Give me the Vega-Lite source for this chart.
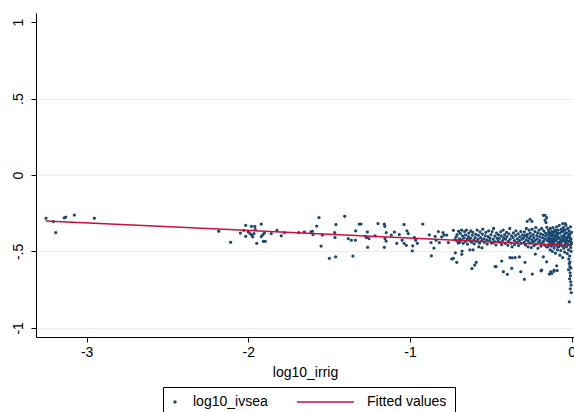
{
  "$schema": "https://vega.github.io/schema/vega-lite/v6.json",
  "width": 538,
  "height": 324,
  "autosize": {"type": "none"},
  "padding": {"left": 36, "top": 13, "right": 0, "bottom": 75},
  "background": "white",
  "config": {
    "view": {"stroke": null},
    "font": "Liberation Sans",
    "axis": {"labelFont": "Liberation Sans", "titleFont": "Liberation Sans", "labelFontSize": 14, "titleFontSize": 14, "titleFontWeight": "normal", "labelColor": "black", "titleColor": "black", "domainColor": "black", "tickColor": "black", "tickSize": 5, "domainWidth": 1},
    "legend": {"symbolStrokeWidth": 1.5}
  },
  "datasets": {
    "pts": [
      {"irrig":-3.251,"ivsea":-0.283},{"irrig":-3.206,"ivsea":-0.305},{"irrig":-3.191,"ivsea":-0.377},{"irrig":-3.138,"ivsea":-0.281},{"irrig":-3.129,"ivsea":-0.275},{"irrig":-3.076,"ivsea":-0.262},{"irrig":-2.952,"ivsea":-0.283},
      {"irrig":-2.183,"ivsea":-0.368},{"irrig":-2.109,"ivsea":-0.440},{"irrig":-2.049,"ivsea":-0.381},{"irrig":-2.028,"ivsea":-0.362},{"irrig":-2.016,"ivsea":-0.329},{"irrig":-2.016,"ivsea":-0.401},{"irrig":-2.000,"ivsea":-0.373},{"irrig":-1.989,"ivsea":-0.383},{"irrig":-1.981,"ivsea":-0.336},{"irrig":-1.979,"ivsea":-0.394},{"irrig":-1.973,"ivsea":-0.405},{"irrig":-1.965,"ivsea":-0.383},{"irrig":-1.960,"ivsea":-0.337},{"irrig":-1.957,"ivsea":-0.357},{"irrig":-1.948,"ivsea":-0.448},{"irrig":-1.920,"ivsea":-0.322},{"irrig":-1.920,"ivsea":-0.403},{"irrig":-1.911,"ivsea":-0.392},{"irrig":-1.907,"ivsea":-0.435},{"irrig":-1.901,"ivsea":-0.381},{"irrig":-1.895,"ivsea":-0.435},{"irrig":-1.858,"ivsea":-0.383},{"irrig":-1.823,"ivsea":-0.362},{"irrig":-1.796,"ivsea":-0.399},{"irrig":-1.777,"ivsea":-0.377},{"irrig":-1.688,"ivsea":-0.377},
      {"irrig":-1.654,"ivsea":-0.373},{"irrig":-1.612,"ivsea":-0.373},{"irrig":-1.604,"ivsea":-0.368},{"irrig":-1.600,"ivsea":-0.390},{"irrig":-1.577,"ivsea":-0.334},{"irrig":-1.563,"ivsea":-0.279},{"irrig":-1.550,"ivsea":-0.466},{"irrig":-1.542,"ivsea":-0.394},{"irrig":-1.499,"ivsea":-0.546},{"irrig":-1.460,"ivsea":-0.536},{"irrig":-1.458,"ivsea":-0.324},{"irrig":-1.466,"ivsea":-0.377},{"irrig":-1.464,"ivsea":-0.409},{"irrig":-1.404,"ivsea":-0.270},{"irrig":-1.382,"ivsea":-0.416},{"irrig":-1.363,"ivsea":-0.427},{"irrig":-1.353,"ivsea":-0.531},{"irrig":-1.338,"ivsea":-0.427},{"irrig":-1.336,"ivsea":-0.366},{"irrig":-1.314,"ivsea":-0.322},{"irrig":-1.303,"ivsea":-0.322},{"irrig":-1.274,"ivsea":-0.401},{"irrig":-1.270,"ivsea":-0.409},{"irrig":-1.264,"ivsea":-0.373},{"irrig":-1.262,"ivsea":-0.474},{"irrig":-1.254,"ivsea":-0.416},{"irrig":-1.216,"ivsea":-0.399},{"irrig":-1.198,"ivsea":-0.318},{"irrig":-1.159,"ivsea":-0.322},{"irrig":-1.159,"ivsea":-0.474},{"irrig":-1.155,"ivsea":-0.416},{"irrig":-1.148,"ivsea":-0.433},{"irrig":-1.147,"ivsea":-0.377},
      {"irrig":-1.156,"ivsea":-0.336},{"irrig":-1.116,"ivsea":-0.394},{"irrig":-1.097,"ivsea":-0.373},{"irrig":-1.082,"ivsea":-0.448},{"irrig":-1.066,"ivsea":-0.390},{"irrig":-1.049,"ivsea":-0.427},{"irrig":-1.037,"ivsea":-0.324},{"irrig":-1.037,"ivsea":-0.448},{"irrig":-1.023,"ivsea":-0.461},{"irrig":-1.019,"ivsea":-0.366},{"irrig":-1.011,"ivsea":-0.383},{"irrig":-0.986,"ivsea":-0.496},{"irrig":-0.983,"ivsea":-0.464},{"irrig":-0.973,"ivsea":-0.409},{"irrig":-0.965,"ivsea":-0.427},{"irrig":-0.955,"ivsea":-0.448},{"irrig":-0.921,"ivsea":-0.322},{"irrig":-0.881,"ivsea":-0.392},{"irrig":-0.870,"ivsea":-0.442},{"irrig":-0.868,"ivsea":-0.529},{"irrig":-0.852,"ivsea":-0.479},{"irrig":-0.845,"ivsea":-0.401},{"irrig":-0.839,"ivsea":-0.427},{"irrig":-0.825,"ivsea":-0.370},{"irrig":-0.819,"ivsea":-0.442},{"irrig":-0.804,"ivsea":-0.405},{"irrig":-0.796,"ivsea":-0.377},{"irrig":-0.790,"ivsea":-0.394},{"irrig":-0.773,"ivsea":-0.394},{"irrig":-0.763,"ivsea":-0.442},{"irrig":-0.742,"ivsea":-0.550},{"irrig":-0.732,"ivsea":-0.546},{"irrig":-0.732,"ivsea":-0.362},{"irrig":-0.722,"ivsea":-0.422},{"irrig":-0.711,"ivsea":-0.572},{"irrig":-0.720,"ivsea":-0.509},
      {"irrig":-0.715,"ivsea":-0.405},{"irrig":-0.711,"ivsea":-0.43},{"irrig":-0.709,"ivsea":-0.39},{"irrig":-0.702,"ivsea":-0.445},{"irrig":-0.70,"ivsea":-0.368},{"irrig":-0.694,"ivsea":-0.418},{"irrig":-0.692,"ivsea":-0.44},{"irrig":-0.689,"ivsea":-0.382},{"irrig":-0.681,"ivsea":-0.36},{"irrig":-0.679,"ivsea":-0.425},{"irrig":-0.676,"ivsea":-0.398},{"irrig":-0.671,"ivsea":-0.447},{"irrig":-0.666,"ivsea":-0.412},{"irrig":-0.664,"ivsea":-0.37},{"irrig":-0.657,"ivsea":-0.435},{"irrig":-0.656,"ivsea":-0.392},{"irrig":-0.651,"ivsea":-0.36},{"irrig":-0.646,"ivsea":-0.42},{"irrig":-0.645,"ivsea":-0.452},{"irrig":-0.639,"ivsea":-0.403},{"irrig":-0.636,"ivsea":-0.38},{"irrig":-0.631,"ivsea":-0.43},{"irrig":-0.626,"ivsea":-0.414},{"irrig":-0.624,"ivsea":-0.365},{"irrig":-0.619,"ivsea":-0.44},{"irrig":-0.615,"ivsea":-0.395},{"irrig":-0.612,"ivsea":-0.375},{"irrig":-0.605,"ivsea":-0.425},{"irrig":-0.603,"ivsea":-0.45},
      {"irrig":-0.68,"ivsea":-0.52},{"irrig":-0.678,"ivsea":-0.498},{"irrig":-0.63,"ivsea":-0.49},{"irrig":-0.61,"ivsea":-0.49},{"irrig":-0.617,"ivsea":-0.612},{"irrig":-0.600,"ivsea":-0.590},{"irrig":-0.591,"ivsea":-0.572},{"irrig":-0.575,"ivsea":-0.47},{"irrig":-0.555,"ivsea":-0.477},
      {"irrig":-0.597,"ivsea":-0.41},{"irrig":-0.594,"ivsea":-0.388},{"irrig":-0.588,"ivsea":-0.435},{"irrig":-0.585,"ivsea":-0.36},{"irrig":-0.579,"ivsea":-0.42},{"irrig":-0.577,"ivsea":-0.395},{"irrig":-0.570,"ivsea":-0.445},{"irrig":-0.567,"ivsea":-0.372},{"irrig":-0.563,"ivsea":-0.41},{"irrig":-0.556,"ivsea":-0.43},{"irrig":-0.553,"ivsea":-0.387},{"irrig":-0.550,"ivsea":-0.355},{"irrig":-0.544,"ivsea":-0.418},{"irrig":-0.541,"ivsea":-0.44},{"irrig":-0.535,"ivsea":-0.398},{"irrig":-0.531,"ivsea":-0.376},{"irrig":-0.526,"ivsea":-0.425},{"irrig":-0.523,"ivsea":-0.452},{"irrig":-0.517,"ivsea":-0.403},{"irrig":-0.514,"ivsea":-0.365},{"irrig":-0.508,"ivsea":-0.43},{"irrig":-0.506,"ivsea":-0.413},{"irrig":-0.499,"ivsea":-0.39},{"irrig":-0.496,"ivsea":-0.445},{"irrig":-0.492,"ivsea":-0.37},{"irrig":-0.486,"ivsea":-0.42},{"irrig":-0.483,"ivsea":-0.35},{"irrig":-0.477,"ivsea":-0.436},{"irrig":-0.475,"ivsea":-0.4},{"irrig":-0.469,"ivsea":-0.458},{"irrig":-0.465,"ivsea":-0.38},{"irrig":-0.462,"ivsea":-0.415},{"irrig":-0.455,"ivsea":-0.432},{"irrig":-0.453,"ivsea":-0.392},{"irrig":-0.486,"ivsea":-0.442},{"irrig":-0.473,"ivsea":-0.6},{"irrig":-0.468,"ivsea":-0.60},
      {"irrig":-0.448,"ivsea":-0.415},{"irrig":-0.445,"ivsea":-0.44},{"irrig":-0.439,"ivsea":-0.372},{"irrig":-0.436,"ivsea":-0.398},{"irrig":-0.433,"ivsea":-0.455},{"irrig":-0.427,"ivsea":-0.428},{"irrig":-0.424,"ivsea":-0.36},{"irrig":-0.421,"ivsea":-0.41},{"irrig":-0.415,"ivsea":-0.39},{"irrig":-0.412,"ivsea":-0.447},{"irrig":-0.409,"ivsea":-0.42},{"irrig":-0.403,"ivsea":-0.375},{"irrig":-0.401,"ivsea":-0.403},{"irrig":-0.395,"ivsea":-0.46},{"irrig":-0.392,"ivsea":-0.435},{"irrig":-0.389,"ivsea":-0.385},{"irrig":-0.383,"ivsea":-0.35},{"irrig":-0.381,"ivsea":-0.42},{"irrig":-0.375,"ivsea":-0.445},{"irrig":-0.372,"ivsea":-0.398},{"irrig":-0.369,"ivsea":-0.47},{"irrig":-0.363,"ivsea":-0.41},{"irrig":-0.361,"ivsea":-0.378},{"irrig":-0.355,"ivsea":-0.43},{"irrig":-0.353,"ivsea":-0.455},{"irrig":-0.347,"ivsea":-0.395},{"irrig":-0.345,"ivsea":-0.365},{"irrig":-0.339,"ivsea":-0.44},{"irrig":-0.337,"ivsea":-0.418},{"irrig":-0.331,"ivsea":-0.385},{"irrig":-0.329,"ivsea":-0.462},{"irrig":-0.323,"ivsea":-0.43},{"irrig":-0.321,"ivsea":-0.405},{"irrig":-0.315,"ivsea":-0.37},{"irrig":-0.313,"ivsea":-0.448},{"irrig":-0.307,"ivsea":-0.42},{"irrig":-0.305,"ivsea":-0.392},
      {"irrig":-0.433,"ivsea":-0.563},{"irrig":-0.423,"ivsea":-0.633},{"irrig":-0.398,"ivsea":-0.65},{"irrig":-0.382,"ivsea":-0.54},{"irrig":-0.368,"ivsea":-0.542},{"irrig":-0.35,"ivsea":-0.54},{"irrig":-0.371,"ivsea":-0.611},{"irrig":-0.315,"ivsea":-0.633},{"irrig":-0.293,"ivsea":-0.683},{"irrig":-0.324,"ivsea":-0.536},{"irrig":-0.289,"ivsea":-0.572},{"irrig":-0.275,"ivsea":-0.303},{"irrig":-0.258,"ivsea":-0.290},{"irrig":-0.246,"ivsea":-0.303},
      {"irrig":-0.298,"ivsea":-0.41},{"irrig":-0.294,"ivsea":-0.44},{"irrig":-0.293,"ivsea":-0.372},{"irrig":-0.288,"ivsea":-0.395},{"irrig":-0.286,"ivsea":-0.458},{"irrig":-0.282,"ivsea":-0.425},{"irrig":-0.281,"ivsea":-0.35},{"irrig":-0.276,"ivsea":-0.405},{"irrig":-0.274,"ivsea":-0.388},{"irrig":-0.270,"ivsea":-0.47},{"irrig":-0.269,"ivsea":-0.432},{"irrig":-0.264,"ivsea":-0.36},{"irrig":-0.262,"ivsea":-0.415},{"irrig":-0.258,"ivsea":-0.445},{"irrig":-0.257,"ivsea":-0.38},{"irrig":-0.252,"ivsea":-0.4},{"irrig":-0.250,"ivsea":-0.475},{"irrig":-0.246,"ivsea":-0.425},{"irrig":-0.245,"ivsea":-0.355},{"irrig":-0.240,"ivsea":-0.438},{"irrig":-0.238,"ivsea":-0.39},{"irrig":-0.234,"ivsea":-0.41},{"irrig":-0.233,"ivsea":-0.462},{"irrig":-0.228,"ivsea":-0.37},{"irrig":-0.226,"ivsea":-0.43},{"irrig":-0.222,"ivsea":-0.345},{"irrig":-0.221,"ivsea":-0.452},{"irrig":-0.216,"ivsea":-0.397},{"irrig":-0.214,"ivsea":-0.418},{"irrig":-0.210,"ivsea":-0.378},{"irrig":-0.209,"ivsea":-0.48},{"irrig":-0.204,"ivsea":-0.44},{"irrig":-0.202,"ivsea":-0.36},{"irrig":-0.198,"ivsea":-0.405},{"irrig":-0.197,"ivsea":-0.428},{"irrig":-0.192,"ivsea":-0.385},{"irrig":-0.190,"ivsea":-0.465},{"irrig":-0.186,"ivsea":-0.35},{"irrig":-0.185,"ivsea":-0.445},{"irrig":-0.180,"ivsea":-0.412},{"irrig":-0.178,"ivsea":-0.392},{"irrig":-0.174,"ivsea":-0.435},{"irrig":-0.173,"ivsea":-0.365},{"irrig":-0.168,"ivsea":-0.458},{"irrig":-0.166,"ivsea":-0.42},{"irrig":-0.162,"ivsea":-0.38},{"irrig":-0.161,"ivsea":-0.4},{"irrig":-0.156,"ivsea":-0.47},{"irrig":-0.154,"ivsea":-0.342},{"irrig":-0.150,"ivsea":-0.43},
      {"irrig":-0.244,"ivsea":-0.648},{"irrig":-0.225,"ivsea":-0.518},{"irrig":-0.19,"ivsea":-0.627},{"irrig":-0.139,"ivsea":-0.648},{"irrig":-0.124,"ivsea":-0.645},{"irrig":-0.11,"ivsea":-0.63},{"irrig":-0.09,"ivsea":-0.625},{"irrig":-0.13,"ivsea":-0.633},{"irrig":-0.109,"ivsea":-0.622},{"irrig":-0.093,"ivsea":-0.594},{"irrig":-0.155,"ivsea":-0.568},{"irrig":-0.176,"ivsea":-0.536},{"irrig":-0.186,"ivsea":-0.622},{"irrig":-0.165,"ivsea":-0.264},{"irrig":-0.155,"ivsea":-0.279},{"irrig":-0.159,"ivsea":-0.311},{"irrig":-0.176,"ivsea":-0.264},{"irrig":-0.165,"ivsea":-0.296},{"irrig":-0.056,"ivsea":-0.318},{"irrig":-0.04,"ivsea":-0.318},
      {"irrig":-0.148,"ivsea":-0.39},{"irrig":-0.145,"ivsea":-0.43},{"irrig":-0.144,"ivsea":-0.36},{"irrig":-0.141,"ivsea":-0.455},{"irrig":-0.140,"ivsea":-0.41},{"irrig":-0.137,"ivsea":-0.38},{"irrig":-0.136,"ivsea":-0.44},{"irrig":-0.133,"ivsea":-0.49},{"irrig":-0.132,"ivsea":-0.35},{"irrig":-0.129,"ivsea":-0.42},{"irrig":-0.128,"ivsea":-0.4},{"irrig":-0.125,"ivsea":-0.465},{"irrig":-0.124,"ivsea":-0.37},{"irrig":-0.121,"ivsea":-0.435},{"irrig":-0.120,"ivsea":-0.5},{"irrig":-0.117,"ivsea":-0.385},{"irrig":-0.116,"ivsea":-0.345},{"irrig":-0.113,"ivsea":-0.445},{"irrig":-0.112,"ivsea":-0.415},{"irrig":-0.109,"ivsea":-0.478},{"irrig":-0.108,"ivsea":-0.395},{"irrig":-0.105,"ivsea":-0.36},{"irrig":-0.104,"ivsea":-0.43},{"irrig":-0.101,"ivsea":-0.512},{"irrig":-0.1,"ivsea":-0.405},{"irrig":-0.097,"ivsea":-0.375},{"irrig":-0.096,"ivsea":-0.455},{"irrig":-0.093,"ivsea":-0.34},{"irrig":-0.092,"ivsea":-0.42},{"irrig":-0.089,"ivsea":-0.49},{"irrig":-0.088,"ivsea":-0.39},{"irrig":-0.085,"ivsea":-0.44},{"irrig":-0.084,"ivsea":-0.36},{"irrig":-0.081,"ivsea":-0.47},{"irrig":-0.080,"ivsea":-0.41},{"irrig":-0.077,"ivsea":-0.33},{"irrig":-0.076,"ivsea":-0.45},{"irrig":-0.073,"ivsea":-0.525},{"irrig":-0.072,"ivsea":-0.38},{"irrig":-0.069,"ivsea":-0.425},{"irrig":-0.068,"ivsea":-0.495},{"irrig":-0.065,"ivsea":-0.355},{"irrig":-0.064,"ivsea":-0.44},{"irrig":-0.061,"ivsea":-0.4},{"irrig":-0.06,"ivsea":-0.465},{"irrig":-0.057,"ivsea":-0.37},{"irrig":-0.056,"ivsea":-0.54},{"irrig":-0.053,"ivsea":-0.415},{"irrig":-0.052,"ivsea":-0.345},{"irrig":-0.049,"ivsea":-0.48},{"irrig":-0.048,"ivsea":-0.43},{"irrig":-0.045,"ivsea":-0.39},{"irrig":-0.044,"ivsea":-0.505},{"irrig":-0.041,"ivsea":-0.36},{"irrig":-0.04,"ivsea":-0.445},{"irrig":-0.037,"ivsea":-0.41},{"irrig":-0.036,"ivsea":-0.33},{"irrig":-0.033,"ivsea":-0.47},{"irrig":-0.032,"ivsea":-0.425},{"irrig":-0.029,"ivsea":-0.38},{"irrig":-0.028,"ivsea":-0.515},{"irrig":-0.025,"ivsea":-0.35},{"irrig":-0.024,"ivsea":-0.455},{"irrig":-0.021,"ivsea":-0.4},{"irrig":-0.02,"ivsea":-0.49},{"irrig":-0.017,"ivsea":-0.365},{"irrig":-0.016,"ivsea":-0.435},{"irrig":-0.013,"ivsea":-0.53},{"irrig":-0.012,"ivsea":-0.39},{"irrig":-0.009,"ivsea":-0.46},{"irrig":-0.008,"ivsea":-0.34},{"irrig":-0.005,"ivsea":-0.42},{"irrig":-0.004,"ivsea":-0.5},{"irrig":-0.001,"ivsea":-0.375},
      {"irrig":-0.147,"ivsea":-0.415},{"irrig":-0.142,"ivsea":-0.375},{"irrig":-0.134,"ivsea":-0.425},{"irrig":-0.127,"ivsea":-0.455},{"irrig":-0.122,"ivsea":-0.395},{"irrig":-0.118,"ivsea":-0.42},{"irrig":-0.110,"ivsea":-0.37},{"irrig":-0.106,"ivsea":-0.46},{"irrig":-0.098,"ivsea":-0.43},{"irrig":-0.094,"ivsea":-0.395},{"irrig":-0.086,"ivsea":-0.47},{"irrig":-0.082,"ivsea":-0.38},{"irrig":-0.074,"ivsea":-0.415},{"irrig":-0.070,"ivsea":-0.455},{"irrig":-0.062,"ivsea":-0.37},{"irrig":-0.058,"ivsea":-0.43},{"irrig":-0.050,"ivsea":-0.4},{"irrig":-0.046,"ivsea":-0.46},{"irrig":-0.038,"ivsea":-0.38},{"irrig":-0.034,"ivsea":-0.44},{"irrig":-0.026,"ivsea":-0.41},{"irrig":-0.022,"ivsea":-0.455},{"irrig":-0.014,"ivsea":-0.385},{"irrig":-0.010,"ivsea":-0.43},{"irrig":-0.002,"ivsea":-0.45},
      {"irrig":-0.146,"ivsea":-0.47},{"irrig":-0.131,"ivsea":-0.39},{"irrig":-0.119,"ivsea":-0.44},{"irrig":-0.107,"ivsea":-0.43},{"irrig":-0.099,"ivsea":-0.36},{"irrig":-0.083,"ivsea":-0.41},{"irrig":-0.071,"ivsea":-0.44},{"irrig":-0.063,"ivsea":-0.43},{"irrig":-0.047,"ivsea":-0.36},{"irrig":-0.035,"ivsea":-0.425},{"irrig":-0.027,"ivsea":-0.43},{"irrig":-0.011,"ivsea":-0.41},{"irrig":-0.006,"ivsea":-0.475},{"irrig":-0.003,"ivsea":-0.44},
      {"irrig":-0.018,"ivsea":-0.55},{"irrig":-0.015,"ivsea":-0.58},{"irrig":-0.012,"ivsea":-0.6},{"irrig":-0.02,"ivsea":-0.62},{"irrig":-0.01,"ivsea":-0.64},{"irrig":-0.008,"ivsea":-0.66},{"irrig":-0.013,"ivsea":-0.68},{"irrig":-0.006,"ivsea":-0.7},{"irrig":-0.004,"ivsea":-0.72},{"irrig":-0.009,"ivsea":-0.745},{"irrig":-0.003,"ivsea":-0.77},{"irrig":-0.011,"ivsea":-0.57},{"irrig":-0.005,"ivsea":-0.61},{"irrig":-0.015,"ivsea":-0.83}
    ],
    "fit": [{"irrig": -3.253, "fit": -0.301}, {"irrig": 0, "fit": -0.462}]
  },
  "layer": [
    {
      "data": {"name": "pts"},
      "mark": {"type": "point", "filled": false, "size": 3, "strokeWidth": 1.5, "opacity": 1},
      "encoding": {
        "x": {"field": "irrig", "type": "quantitative", "scale": {"domain": [-3.313, 0.014], "nice": false, "zero": false},
              "axis": {"title": "log10_irrig", "values": [-3, -2, -1, 0], "labelExpr": "'' + datum.value", "grid": false, "labelPadding": 3, "titlePadding": 6}},
        "y": {"field": "ivsea", "type": "quantitative", "scale": {"domain": [-1.06, 1.06], "nice": false, "zero": false},
              "axis": {"title": null, "values": [-1, -0.5, 0, 0.5, 1], "labelExpr": "datum.value == 1 ? '1' : datum.value == 0.5 ? '.5' : datum.value == 0 ? '0' : datum.value == -0.5 ? '-.5' : '-1'",
                       "labelAngle": -90, "labelAlign": "center", "labelBaseline": "bottom", "labelPadding": 6,
                       "grid": true, "gridColor": {"condition": {"test": "datum.value == 1", "value": "transparent"}, "value": "#e6eef0"}, "gridWidth": 1}},
        "stroke": {"datum": "log10_ivsea", "type": "nominal",
                  "scale": {"domain": ["log10_ivsea", "Fitted values"], "range": ["#1a476f", "#c8103a"]},
                  "legend": {"title": null, "orient": "none", "direction": "horizontal", "legendX": 127, "legendY": 374,
                             "strokeColor": "black", "padding": 8, "columnPadding": 26, "symbolSize": 36, "labelOffset": 8,
                             "labelFont": "Liberation Sans", "labelFontSize": 14, "labelColor": "black"}}
      }
    },
    {
      "data": {"name": "fit"},
      "mark": {"type": "line", "strokeWidth": 1.5},
      "encoding": {
        "x": {"field": "irrig", "type": "quantitative"},
        "y": {"field": "fit", "type": "quantitative"},
        "stroke": {"datum": "Fitted values", "type": "nominal", "legend": null}
      }
    },
    {
      "data": {"values": []},
      "mark": {"type": "point", "filled": false, "strokeWidth": 1.5},
      "encoding": {
        "x": {"field": "irrig", "type": "quantitative"},
        "y": {"field": "ivsea", "type": "quantitative"},
        "shape": {"datum": "log10_ivsea", "type": "nominal",
                  "scale": {"domain": ["log10_ivsea", "Fitted values"], "range": ["M-0.667,0A0.333,0.333,0,1,1,-1.333,0A0.333,0.333,0,1,1,-0.667,0Z", "M-18.333,0L0.667,0"]},
                  "legend": {"title": null, "orient": "none", "direction": "horizontal", "legendX": 127, "legendY": 374,
                             "strokeColor": "black", "padding": 8, "columnPadding": 26, "symbolSize": 36, "labelOffset": 8,
                             "labelFont": "Liberation Sans", "labelFontSize": 14, "labelColor": "black"}}
      }
    }
  ]
}
